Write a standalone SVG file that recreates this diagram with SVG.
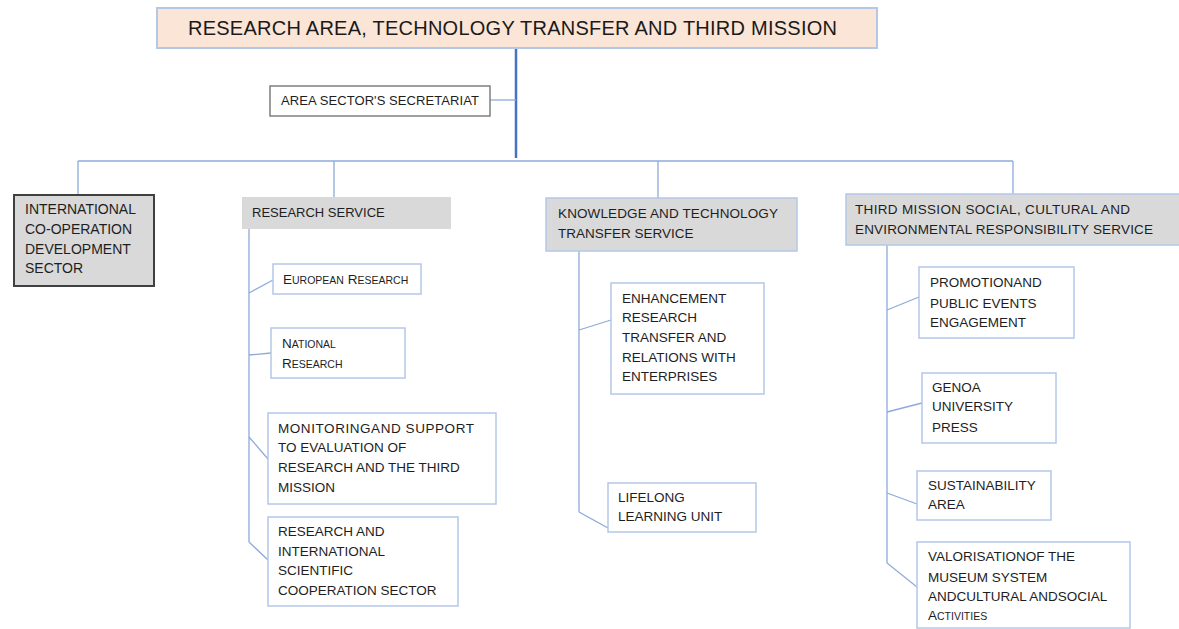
<svg xmlns="http://www.w3.org/2000/svg" width="1179" height="629" viewBox="0 0 1179 629">
<style>
text{font-family:"Liberation Sans",Arial,sans-serif;fill:#1e1e1e;font-size:13.5px}
.title{font-size:20px;fill:#1a1a1a}
.s{font-size:10.5px}
.box{fill:#ffffff;stroke:#b4c7e7;stroke-width:1.5}
.svc{fill:#d9d9d9;stroke:#b4c7e7;stroke-width:1.5}
.conn line{stroke:#8eaadb;stroke-width:1.3;fill:none}
</style>
<g class="conn" id="connectors">
<line x1="516" y1="48" x2="516" y2="158" style="stroke:#4472c4;stroke-width:2.5"/>
<line x1="490" y1="100" x2="516" y2="100"/>
<line x1="78" y1="161" x2="1013" y2="161"/>
<line x1="78" y1="161" x2="78" y2="195"/>
<line x1="334" y1="161" x2="334" y2="197"/>
<line x1="658" y1="161" x2="658" y2="198"/>
<line x1="1013" y1="161" x2="1013" y2="194"/>
<line x1="249" y1="229" x2="249" y2="542"/>
<line x1="249" y1="293" x2="273" y2="280"/>
<line x1="249" y1="355" x2="271" y2="353"/>
<line x1="249" y1="437" x2="268" y2="459"/>
<line x1="249" y1="542" x2="268" y2="560"/>
<line x1="579" y1="251" x2="579" y2="512"/>
<line x1="579" y1="330" x2="611" y2="320"/>
<line x1="579" y1="512" x2="608" y2="528"/>
<line x1="887" y1="245" x2="887" y2="563"/>
<line x1="887" y1="310" x2="919" y2="297"/>
<line x1="887" y1="412" x2="922" y2="403"/>
<line x1="887" y1="493" x2="917" y2="504"/>
<line x1="887" y1="563" x2="917" y2="587"/>
</g>
<g id="title">
<rect x="157" y="8" width="720" height="40" style="fill:#fbe5d6;stroke:#b4c7e7;stroke-width:2"/>
<text class="title" x="188" y="35" textLength="649">RESEARCH AREA, TECHNOLOGY TRANSFER AND THIRD MISSION</text>
</g>
<g id="secretariat">
<rect x="270" y="86" width="220" height="30" style="fill:#ffffff;stroke:#7f7f7f;stroke-width:1.5"/>
<text x="281" y="105" style="font-size:13px" textLength="198">AREA SECTOR'S SECRETARIAT</text>
</g>
<g id="international">
<rect x="14" y="195" width="140" height="91" style="fill:#d9d9d9;stroke:#404040;stroke-width:2"/>
<text x="25" y="214" style="font-size:14px">INTERNATIONAL</text>
<text x="25" y="234" style="font-size:14px">CO-OPERATION</text>
<text x="25" y="254" style="font-size:14px">DEVELOPMENT</text>
<text x="25" y="273" style="font-size:14px">SECTOR</text>
</g>
<g id="research-service">
<rect x="242" y="197" width="209" height="32" style="fill:#d9d9d9"/>
<text x="252" y="217" style="font-size:13px">RESEARCH SERVICE</text>
</g>
<g id="knowledge">
<rect class="svc" x="546" y="198" width="251" height="53"/>
<text x="558" y="218" textLength="220">KNOWLEDGE AND TECHNOLOGY</text>
<text x="558" y="238">TRANSFER SERVICE</text>
</g>
<g id="third-mission">
<rect class="svc" x="846" y="194" width="340" height="51"/>
<text x="855" y="214" textLength="275">THIRD MISSION SOCIAL, CULTURAL AND</text>
<text x="855" y="234" textLength="298">ENVIRONMENTAL RESPONSIBILITY SERVICE</text>
</g>
<g id="european">
<rect class="box" x="273" y="264" width="148" height="30"/>
<text x="283" y="284">E<tspan class="s">UROPEAN</tspan> R<tspan class="s">ESEARCH</tspan></text>
</g>
<g id="national">
<rect class="box" x="271" y="328" width="134" height="50"/>
<text x="282" y="348">N<tspan class="s">ATIONAL</tspan></text>
<text x="282" y="368">R<tspan class="s">ESEARCH</tspan></text>
</g>
<g id="monitoring">
<rect class="box" x="268" y="413" width="228" height="91"/>
<text x="278" y="433" textLength="196">MONITORINGAND SUPPORT</text>
<text x="278" y="452">TO EVALUATION OF</text>
<text x="278" y="472">RESEARCH AND THE THIRD</text>
<text x="278" y="492">MISSION</text>
</g>
<g id="research-international">
<rect class="box" x="268" y="517" width="190" height="89"/>
<text x="278" y="536">RESEARCH AND</text>
<text x="278" y="556">INTERNATIONAL</text>
<text x="278" y="575">SCIENTIFIC</text>
<text x="278" y="595">COOPERATION SECTOR</text>
</g>
<g id="enhancement">
<rect class="box" x="611" y="283" width="153" height="111"/>
<text x="622" y="303">ENHANCEMENT</text>
<text x="622" y="322">RESEARCH</text>
<text x="622" y="342">TRANSFER AND</text>
<text x="622" y="362">RELATIONS WITH</text>
<text x="622" y="381">ENTERPRISES</text>
</g>
<g id="lifelong">
<rect class="box" x="608" y="483" width="148" height="49"/>
<text x="618" y="502">LIFELONG</text>
<text x="618" y="521">LEARNING UNIT</text>
</g>
<g id="promotion">
<rect class="box" x="919" y="267" width="155" height="71"/>
<text x="930" y="287">PROMOTIONAND</text>
<text x="930" y="308">PUBLIC EVENTS</text>
<text x="930" y="327">ENGAGEMENT</text>
</g>
<g id="genoa">
<rect class="box" x="922" y="373" width="134" height="70"/>
<text x="932" y="392">GENOA</text>
<text x="932" y="411">UNIVERSITY</text>
<text x="932" y="432">PRESS</text>
</g>
<g id="sustainability">
<rect class="box" x="917" y="471" width="134" height="49"/>
<text x="928" y="490">SUSTAINABILITY</text>
<text x="928" y="509">AREA</text>
</g>
<g id="valorisation">
<rect class="box" x="917" y="542" width="213" height="86"/>
<text x="928" y="561">VALORISATIONOF THE</text>
<text x="928" y="582">MUSEUM SYSTEM</text>
<text x="928" y="601">ANDCULTURAL ANDSOCIAL</text>
<text x="928" y="620">A<tspan class="s">CTIVITIES</tspan></text>
</g>
</svg>
